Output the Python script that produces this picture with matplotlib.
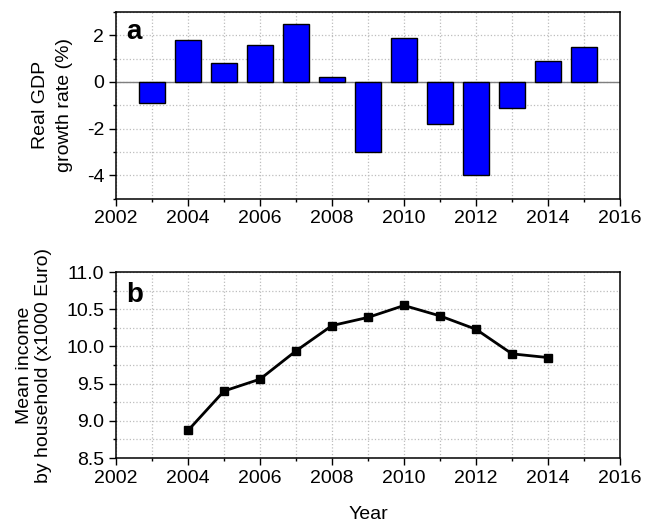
import matplotlib
matplotlib.use('Agg')
import matplotlib.pyplot as plt
from matplotlib.ticker import MultipleLocator, FormatStrFormatter

plt.rcParams['font.family'] = ['Liberation Sans', 'DejaVu Sans']

# real GDP growth (%)
gdp_years = [2003, 2004, 2005, 2006, 2007, 2008, 2009, 2010, 2011, 2012, 2013, 2014, 2015]
gdp_growth = [-0.9, 1.8, 0.8, 1.6, 2.5, 0.2, -3.0, 1.9, -1.8, -4.0, -1.1, 0.9, 1.5]

# mean household income (x1000 Euro)
inc_years = [2004, 2005, 2006, 2007, 2008, 2009, 2010, 2011, 2012, 2013, 2014]
inc_values = [8.87, 9.40, 9.56, 9.94, 10.28, 10.39, 10.55, 10.41, 10.23, 9.90, 9.85]

fig = plt.figure(figsize=(6.46, 5.22), dpi=100)
ax1 = fig.add_axes([0.1796, 0.6197, 0.7802, 0.3573])
ax2 = fig.add_axes([0.1796, 0.1226, 0.7802, 0.3563])


def style(ax):
    ax.set_xlim(2002, 2016)
    ax.xaxis.set_major_locator(MultipleLocator(2))
    ax.xaxis.set_minor_locator(MultipleLocator(1))
    ax.grid(True, which='both', linestyle=':', color='#bdbdbd', linewidth=0.9)
    ax.set_axisbelow(True)
    ax.tick_params(which='both', direction='out', top=False, right=False, labelsize=14)
    ax.tick_params(which='major', length=5, width=1)
    ax.tick_params(which='minor', length=2.5, width=1)
    for s in ax.spines.values():
        s.set_linewidth(1.1)


# panel a
ax1.axhline(0, color='#7f7f7f', linewidth=1, zorder=1)
ax1.bar(gdp_years, gdp_growth, width=0.7, color='#0000ff', edgecolor='black', linewidth=1, zorder=2)
ax1.set_ylim(-5, 3)
ax1.yaxis.set_major_locator(MultipleLocator(2))
ax1.yaxis.set_minor_locator(MultipleLocator(1))
ax1.yaxis.set_major_formatter(FormatStrFormatter('%d'))
style(ax1)
ax1.set_ylabel('Real GDP\ngrowth rate (%)', fontsize=14, linespacing=1.5, labelpad=10)
ax1.text(0.02, 0.854, 'a', transform=ax1.transAxes, fontsize=20, fontweight='bold', va='baseline')

# panel b
ax2.plot(inc_years, inc_values, color='black', linewidth=2, marker='s', markersize=6)
ax2.set_ylim(8.5, 11.0)
ax2.yaxis.set_major_locator(MultipleLocator(0.5))
ax2.yaxis.set_minor_locator(MultipleLocator(0.25))
ax2.yaxis.set_major_formatter(FormatStrFormatter('%.1f'))
style(ax2)
ax2.set_ylabel('Mean income\nby household (x1000 Euro)', fontsize=14, linespacing=1.2, labelpad=10)
ax2.set_xlabel('Year', fontsize=14, labelpad=14)
ax2.text(0.02, 0.84, 'b', transform=ax2.transAxes, fontsize=20, fontweight='bold', va='baseline')

fig.savefig('out.png', dpi=100)
